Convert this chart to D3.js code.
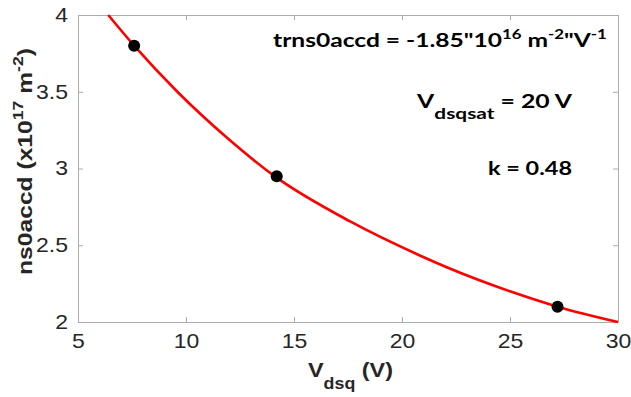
<!DOCTYPE html>
<html><head><meta charset="utf-8">
<script src="https://cdn.jsdelivr.net/npm/d3@7"></script>
<style>body{margin:0;background:#fff}svg{display:block}</style>
</head><body>
<script>
// ---- data ----
const xTicks = [5, 10, 15, 20, 25, 30];
const yTicks = [2, 2.5, 3, 3.5, 4];
const curveV = [6.4, 7.6, 9.6, 11.9, 14.1, 17.6, 20.8, 22.1, 25, 27.2, 30];
const curveN = [4.0, 3.80, 3.50, 3.20, 2.95, 2.655, 2.435, 2.355, 2.20, 2.10, 2.00];
const pointV = [7.6, 14.2, 27.2];
const pointN = [3.80, 2.95, 2.10];

// ---- layout ----
const W = 631, H = 397;
const svg = d3.select("body").append("svg").attr("width", W).attr("height", H);
const x = d3.scaleLinear().domain([5, 30]).range([78, 618]);
const y = d3.scaleLinear().domain([2, 4]).range([322, 15]);
const axisColor = "#ababab", textColor = "#262626";
const SX = 1.15;
const tickFont = "'Liberation Sans', Arial, sans-serif";

function styleAxis(g) {
  g.select(".domain").attr("stroke", axisColor).attr("stroke-width", 1);
  g.selectAll(".tick line").attr("stroke", axisColor);
  g.selectAll(".tick text").attr("fill", textColor)
    .style("font-family", tickFont).style("font-size", "20px");
}

const gB = svg.append("g").attr("transform", "translate(0,322)")
  .call(d3.axisBottom(x).tickValues(xTicks).tickSize(-5).tickSizeOuter(0).tickPadding(12).tickFormat(d => String(d)));
styleAxis(gB);
gB.selectAll(".tick text").attr("transform", `scale(${SX},1)`);

const gL = svg.append("g").attr("transform", "translate(78,0)")
  .call(d3.axisLeft(y).tickValues(yTicks).tickSize(-5).tickSizeOuter(0).tickFormat(d => String(d)));
styleAxis(gL);
gL.selectAll(".tick text").attr("x", -10 / SX).attr("transform", `scale(${SX},1)`);

const gT = svg.append("g").attr("transform", "translate(0,15)")
  .call(d3.axisTop(x).tickValues(xTicks).tickSize(-5).tickSizeOuter(0).tickFormat(""));
styleAxis(gT);
const gR = svg.append("g").attr("transform", "translate(618,0)")
  .call(d3.axisRight(y).tickValues(yTicks).tickSize(-5).tickSizeOuter(0).tickFormat(""));
styleAxis(gR);

// ---- curve ----
const curveData = curveV.map((v, i) => [v, curveN[i]]);
svg.append("path").datum(curveData)
  .attr("fill", "none").attr("stroke", "#ff0000").attr("stroke-width", 2.6)
  .attr("d", d3.line().x(d => x(d[0])).y(d => y(d[1])).curve(d3.curveMonotoneX));

svg.selectAll("circle.pt").data(pointV.map((v, i) => [v, pointN[i]])).enter()
  .append("circle").attr("class", "pt")
  .attr("cx", d => x(d[0])).attr("cy", d => y(d[1])).attr("r", 6).attr("fill", "#000");

// ---- rich text helper ----
function rich(parts, opts) {
  const g = svg.append("g");
  const t = g.append("text")
    .attr("text-anchor", opts.anchor || "start")
    .attr("fill", opts.fill || "#000")
    .style("font-family", opts.font).style("font-weight", "bold")
    .style("font-size", opts.size + "px");
  let cur = 0;
  parts.forEach(p => {
    const off = p.sup ? -opts.supShift : p.sub ? opts.subShift : 0;
    const ts = t.append("tspan").text(p.t).attr("dy", off - cur);
    if (p.sup || p.sub) ts.style("font-size", (p.sup ? opts.supSize : opts.subSize) + "px");
    cur = off;
  });
  const w = t.node().getComputedTextLength();
  const s = opts.width ? opts.width / w : 1;
  g.attr("transform", `translate(${opts.x},${opts.y}) ${opts.rotate ? "rotate(-90)" : ""} scale(${s},1)`);
  return g;
}

const annFont = "Lato, 'Open Sans', sans-serif";
rich([
  { t: "trns0accd = -1.85\"10" }, { t: "16", sup: true }, { t: " m" }, { t: "-2", sup: true },
  { t: "\"V" }, { t: "-1", sup: true }
], { x: 273, y: 47, anchor: "start", font: annFont, size: 19, supSize: 13, supShift: 8, width: 334 });

rich([{ t: "V" }, { t: "dsqsat", sub: true }, { t: " = 20 V" }],
  { x: 572, y: 108, anchor: "end", font: annFont, size: 19, subSize: 16, subShift: 11, width: 155 });

rich([{ t: "k = 0.48" }],
  { x: 572, y: 175, anchor: "end", font: annFont, size: 19, width: 84 });

// ---- axis labels ----
rich([{ t: "V" }, { t: "dsq", sub: true }, { t: " (V)" }],
  { x: 308, y: 377, anchor: "start", font: tickFont, size: 21, subSize: 16, subShift: 12, width: 85, fill: textColor });

rich([{ t: "ns0accd (x10" }, { t: "17", sup: true }, { t: " m" }, { t: "-2", sup: true }, { t: ")" }],
  { x: 32, y: 161.5, anchor: "middle", rotate: true, font: tickFont, size: 21, supSize: 15, supShift: 9, width: 227, fill: textColor });
</script>
</body></html>
